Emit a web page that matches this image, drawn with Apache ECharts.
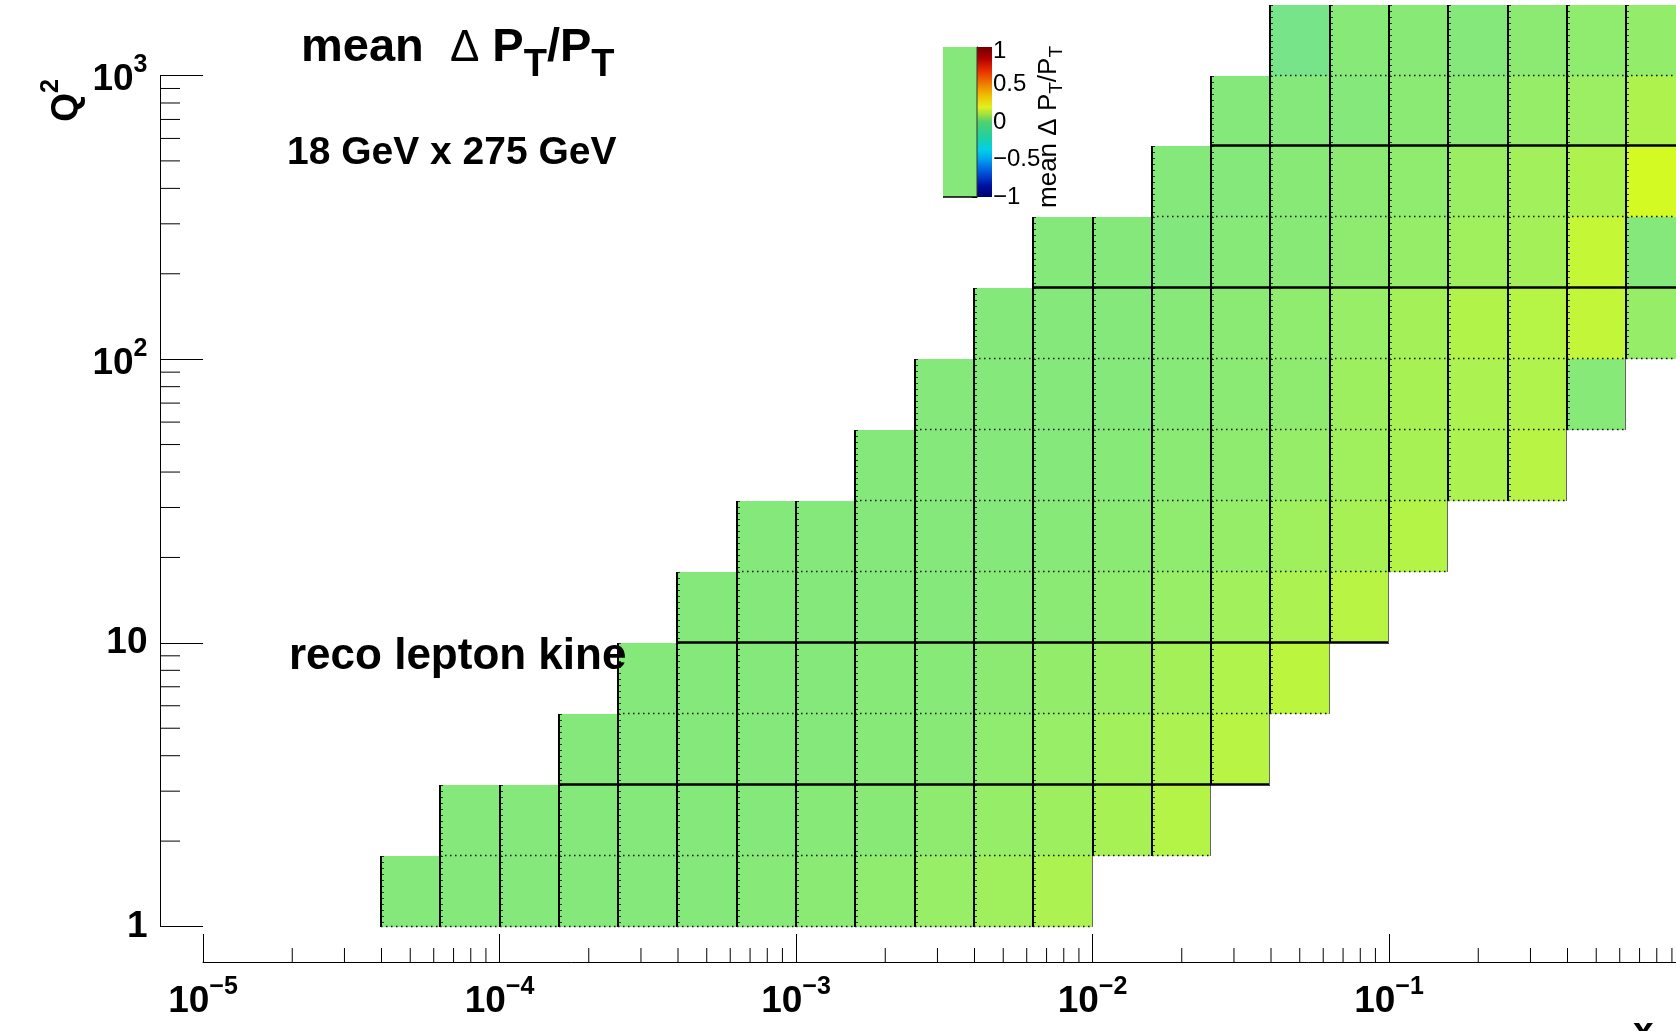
<!DOCTYPE html>
<html>
<head>
<meta charset="utf-8">
<script src="https://cdn.jsdelivr.net/npm/echarts@6/dist/echarts.min.js"></script>
<style>
  html, body { margin: 0; padding: 0; background: #ffffff; overflow: hidden; }
  #chart { width: 1676px; height: 1031px; }
</style>
</head>
<body>
<div id="chart"></div>
<script>
// ---- binning of the x / Q^2 histogram ----
const X_MIN = 1e-5, X_MAX = 1;
const Q2_MIN = 1, Q2_MAX = 1000;
const X_LOW_EXP = -5;          // first x bin edge = 10^-5
const X_BINS_PER_DECADE = 5;
const Q2_BINS_PER_DECADE = 4;

// first filled x-bin index of each Q^2 row (row 0 = lowest Q^2)
const rowFirstXBin = [3, 4, 6, 7, 8, 9, 11, 12, 13, 14, 16, 17, 18];

// mean dPT/PT per filled bin, row by row
const rowValues = [
  [0, 0, 0, 0, 0, 0, 0.005, 0.015, 0.03, 0.05, 0.07, 0.10],
  [0, 0, 0, 0, 0, 0, 0.005, 0.01, 0.025, 0.045, 0.065, 0.09, 0.12],
  [0, 0, 0, 0, 0, 0.005, 0.01, 0.03, 0.05, 0.075, 0.10, 0.13],
  [0, 0, 0, 0, 0.005, 0.005, 0.02, 0.04, 0.055, 0.08, 0.11, 0.14],
  [0, 0, 0, 0, 0, 0.005, 0.015, 0.03, 0.05, 0.075, 0.10, 0.13],
  [0, 0, 0, 0, 0, 0.005, 0.015, 0.03, 0.045, 0.07, 0.09, 0.12],
  [0, 0, 0, 0, 0.005, 0.015, 0.025, 0.045, 0.07, 0.09, 0.10, 0.13],
  [0, 0, 0, 0, 0.005, 0.015, 0.025, 0.065, 0.09, 0.10, 0.11, 0.005],
  [0, 0, 0, 0.005, 0.015, 0.03, 0.05, 0.08, 0.115, 0.125, 0.155, 0.045],
  [0, 0, -0.005, 0.005, 0.01, 0.025, 0.045, 0.07, 0.08, 0.16, 0],
  [0, 0, 0.01, 0.02, 0.03, 0.055, 0.075, 0.105, 0.20],
  [0, 0, 0, 0.015, 0.015, 0.045, 0.06, 0.105],
  [-0.03, 0.005, 0.01, 0, 0.02, 0.03, 0.04]
];

// rows whose lower bin edge shows as a solid line
const solidEdgeRows = [2, 4, 9, 11];

// tick labels
const xTickLabels = ['10^\u22125', '10^\u22124', '10^\u22123', '10^\u22122', '10^\u22121', '1'];
const yTickLabels = ['1', '10', '10^2', '10^3'];
const zTickValues = [-1, -0.5, 0, 0.5, 1];
const zTickLabels = ['\u22121', '\u22120.5', '0', '0.5', '1'];

// colour scale of the cells
const cellPaletteMin = -0.05, cellPaletteMax = 0.2;
const cellPaletteColors = ['#70E294', '#84E87A', '#98EE66', '#ACF250', '#C0F63A', '#D4FA24'];

// colour bar gradient (value -> colour)
const barStopValues = [-1, -0.85, -0.68, -0.5, -0.37, -0.2, 0, 0.1, 0.2, 0.35, 0.5, 0.68, 0.85, 1];
const barStopColors = ['#00006A', '#0010A0', '#0050D8', '#00A0F0', '#00D0E8', '#20D0A0', '#50D070',
                       '#A0E040', '#E0F020', '#F0C000', '#F08000', '#E83000', '#B00000', '#700000'];

// ---- derived tables ----
const cells = [];
rowValues.forEach((vals, r) => {
  const qLo = Math.pow(10, r / Q2_BINS_PER_DECADE);
  const qHi = Math.pow(10, (r + 1) / Q2_BINS_PER_DECADE);
  vals.forEach((v, k) => {
    const i = rowFirstXBin[r] + k;
    const xLo = Math.pow(10, X_LOW_EXP + i / X_BINS_PER_DECADE);
    const xHi = Math.pow(10, X_LOW_EXP + (i + 1) / X_BINS_PER_DECADE);
    cells.push([xLo, xHi, qLo, qHi, v, r, k === vals.length - 1 ? 1 : 0]);
  });
});

const xMinorTicks = [];
for (let e = -5; e < 0; e++) for (let m = 2; m <= 9; m++) xMinorTicks.push([m * Math.pow(10, e), Q2_MIN]);
const yMinorTicks = [];
for (let e = 0; e < 3; e++) for (let m = 2; m <= 9; m++) yMinorTicks.push([X_MIN, m * Math.pow(10, e)]);

const FONT = 'Liberation Sans, Arial, Helvetica, sans-serif';
const AXIS_GAP_X = 35.5;   // x axis drawn below the frame
const AXIS_GAP_Y = 43;     // y axis drawn left of the frame

function toRich(s) {
  if (s.indexOf('^') < 0) return '{p|' + s + '}';
  const parts = s.split('^');
  return '{b|' + parts[0] + '}{sup|' + parts[1] + '}';
}
const axisRich = {
  p:   { fontFamily: FONT, fontWeight: 'bold', fontSize: 37, color: '#000' },
  b:   { fontFamily: FONT, fontWeight: 'bold', fontSize: 37, padding: [9, 0, 0, 0], verticalAlign: 'top', color: '#000' },
  sup: { fontFamily: FONT, fontWeight: 'bold', fontSize: 25, verticalAlign: 'top', color: '#000' }
};
const decadeIndex = (v, lo) => Math.round(Math.log10(v)) - lo;

function renderCell(params, api) {
  const p0 = api.coord([api.value(0), api.value(3)]);
  const p1 = api.coord([api.value(1), api.value(2)]);
  const x0 = Math.round(p0[0]), x1 = Math.round(p1[0]);
  const y0 = Math.round(p0[1]), y1 = Math.round(p1[1]);
  const solid = solidEdgeRows.indexOf(api.value(5)) >= 0;
  const children = [
    { type: 'rect', shape: { x: x0, y: y0, width: x1 - x0, height: y1 - y0 },
      style: { fill: api.visual('color') } },
    { type: 'line', shape: { x1: x0, y1: y0, x2: x0, y2: y1 },
      style: { stroke: '#000', lineWidth: 2 } },
    { type: 'line', shape: { x1: x0 + 2, y1: y0, x2: x0 + 2, y2: y1 },
      style: { stroke: '#000', lineWidth: 1.5, lineDash: [1, 5] } },
    { type: 'line', shape: { x1: x0, y1: y1 - 0.5, x2: x1, y2: y1 - 0.5 },
      style: solid ? { stroke: '#000', lineWidth: 2.5 }
                   : { stroke: '#111', lineWidth: 1.5, lineDash: [1.5, 3.5] } }
  ];
  if (api.value(6)) {
    children.push({ type: 'line', shape: { x1: x1 - 0.5, y1: y0, x2: x1 - 0.5, y2: y1 },
      style: { stroke: '#666', lineWidth: 1 } });
  }
  return { type: 'group', children };
}

function renderXMinor(params, api) {
  const p = api.coord([api.value(0), api.value(1)]);
  const y = p[1] + AXIS_GAP_X;
  return { type: 'line', shape: { x1: p[0], y1: y, x2: p[0], y2: y - 14 },
           style: { stroke: '#000', lineWidth: 1 } };
}
function renderYMinor(params, api) {
  const p = api.coord([api.value(0), api.value(1)]);
  const x = p[0] - AXIS_GAP_Y;
  return { type: 'line', shape: { x1: x, y1: p[1], x2: x + 20, y2: p[1] },
           style: { stroke: '#000', lineWidth: 1 } };
}
function renderBar(params, api) {
  const lo = zTickValues[0], hi = zTickValues[zTickValues.length - 1];
  const p0 = api.coord([0, hi]);
  const p1 = api.coord([1, lo]);
  const stops = barStopValues.map((v, i) => ({ offset: (hi - v) / (hi - lo), color: barStopColors[i] }));
  return { type: 'group', children: [
    { type: 'rect', shape: { x: p0[0], y: p0[1], width: p1[0] - p0[0], height: p1[1] - p0[1] },
      style: { fill: new echarts.graphic.LinearGradient(0, 0, 0, 1, stops) } },
    { type: 'line', shape: { x1: p0[0], y1: p0[1], x2: p0[0], y2: p1[1] },
      style: { stroke: '#333', lineWidth: 1 } }
  ] };
}

const chart = echarts.init(document.getElementById('chart'), null, { renderer: 'canvas' });

chart.setOption({
  animation: false,
  backgroundColor: '#ffffff',
  grid: [
    { left: 203, top: 75.5, width: 1482.5, height: 851, containLabel: false, outerBoundsMode: 'none' },
    { left: 977, top: 47, width: 15, height: 150, containLabel: false, outerBoundsMode: 'none' }
  ],
  xAxis: [
    {
      type: 'log', logBase: 10, min: X_MIN, max: X_MAX, splitNumber: 5, gridIndex: 0,
      position: 'bottom', offset: AXIS_GAP_X,
      axisLine: { show: true, lineStyle: { color: '#000', width: 1 } },
      axisTick: { show: true, inside: true, length: 28, lineStyle: { color: '#000', width: 1 } },
      splitLine: { show: false },
      axisLabel: {
        margin: 12.5, showMinLabel: true, showMaxLabel: true, hideOverlap: false,
        formatter: v => toRich(xTickLabels[decadeIndex(v, -5)] || ''),
        rich: axisRich
      }
    },
    { type: 'value', min: 0, max: 1, gridIndex: 1, show: false }
  ],
  yAxis: [
    {
      type: 'log', logBase: 10, min: Q2_MIN, max: Q2_MAX, splitNumber: 3, gridIndex: 0,
      position: 'left', offset: AXIS_GAP_Y,
      axisLine: { show: true, lineStyle: { color: '#000', width: 1 } },
      axisTick: { show: true, inside: true, length: 43, lineStyle: { color: '#000', width: 1 } },
      splitLine: { show: false },
      axisLabel: {
        margin: 12.5, align: 'right', showMinLabel: true, showMaxLabel: true, hideOverlap: false,
        formatter: v => toRich(yTickLabels[decadeIndex(v, 0)] || ''),
        rich: axisRich
      }
    },
    {
      type: 'value', min: -1, max: 1, interval: 0.5, gridIndex: 1, position: 'right',
      axisLine: { show: true, lineStyle: { color: '#000', width: 1 } },
      axisTick: { show: true, inside: true, length: 5, lineStyle: { color: '#000', width: 1 } },
      splitLine: { show: false },
      axisLabel: {
        margin: 1, showMinLabel: true, showMaxLabel: true, hideOverlap: false,
        formatter: v => {
          const i = zTickValues.findIndex(t => Math.abs(t - v) < 1e-9);
          const s = i >= 0 ? zTickLabels[i] : '';
          return i === zTickValues.length - 1 ? '{top|' + s + '}' : '{n|' + s + '}';
        },
        rich: {
          n:   { fontFamily: FONT, fontSize: 24, color: '#000' },
          top: { fontFamily: FONT, fontSize: 24, color: '#000', padding: [8, 0, 0, 0] }
        }
      }
    }
  ],
  visualMap: {
    type: 'continuous', show: false, seriesIndex: 0, dimension: 4,
    min: cellPaletteMin, max: cellPaletteMax,
    inRange: { color: cellPaletteColors }
  },
  series: [
    { type: 'custom', name: 'mean dPT/PT', xAxisIndex: 0, yAxisIndex: 0, clip: false,
      encode: { x: [0, 1], y: [2, 3] }, renderItem: renderCell, data: cells, z: 2 },
    { type: 'custom', xAxisIndex: 0, yAxisIndex: 0, clip: false, silent: true,
      renderItem: renderXMinor, data: xMinorTicks, z: 3 },
    { type: 'custom', xAxisIndex: 0, yAxisIndex: 0, clip: false, silent: true,
      renderItem: renderYMinor, data: yMinorTicks, z: 3 },
    { type: 'custom', xAxisIndex: 1, yAxisIndex: 1, clip: false, silent: true,
      renderItem: renderBar, data: [[0, 0]], z: 2 }
  ],
  graphic: [
    { type: 'text', x: 301, y: 24.5, z: 10,
      style: {
        text: '{b|mean  }{d|\u0394}{b| P}{s|T}{b|/P}{s|T}', verticalAlign: 'top',
        rich: {
          b: { fontFamily: FONT, fontWeight: 'bold', fontSize: 47, verticalAlign: 'top', fill: '#000' },
          d: { fontFamily: FONT, fontWeight: 'normal', fontSize: 44, verticalAlign: 'top', padding: [2, 0, 0, 0], fill: '#000' },
          s: { fontFamily: FONT, fontWeight: 'bold', fontSize: 38, verticalAlign: 'top', padding: [22, 0, 0, 0], fill: '#000' }
        }
      } },
    { type: 'text', x: 287, y: 153, z: 10,
      style: { text: '18 GeV x 275 GeV', font: 'bold 39px ' + FONT, fill: '#000', verticalAlign: 'middle' } },
    { type: 'text', x: 289, y: 657, z: 10,
      style: { text: 'reco lepton kine', font: 'bold 44px ' + FONT, fill: '#000', verticalAlign: 'middle' } },
    { type: 'text', x: 62, y: 79, rotation: Math.PI / 2, z: 10,
      style: { text: '{b|Q}{sup|2}', align: 'right', verticalAlign: 'middle', rich: axisRich } },
    { type: 'text', x: 1633, y: 1014, z: 10,
      style: { text: 'x', font: 'bold 37px ' + FONT, fill: '#000', verticalAlign: 'top' } },
    // palette box and colour-bar title
    { type: 'rect', shape: { x: 943, y: 47, width: 34, height: 150 }, z: 1,
      style: { fill: '#86E87A' } },
    { type: 'line', shape: { x1: 943, y1: 197, x2: 977, y2: 197 }, z: 1,
      style: { stroke: '#000', lineWidth: 1.5 } },
    { type: 'text', x: 1051, y: 46, rotation: Math.PI / 2, z: 10,
      style: {
        text: '{r|mean \u0394 P}{s|T}{r|/P}{s|T}', align: 'right', verticalAlign: 'middle',
        rich: {
          r: { fontFamily: FONT, fontSize: 26, verticalAlign: 'top', fill: '#000' },
          s: { fontFamily: FONT, fontSize: 19, verticalAlign: 'top', padding: [11, 0, 0, 0], fill: '#000' }
        }
      } }
  ]
});
</script>
</body>
</html>
